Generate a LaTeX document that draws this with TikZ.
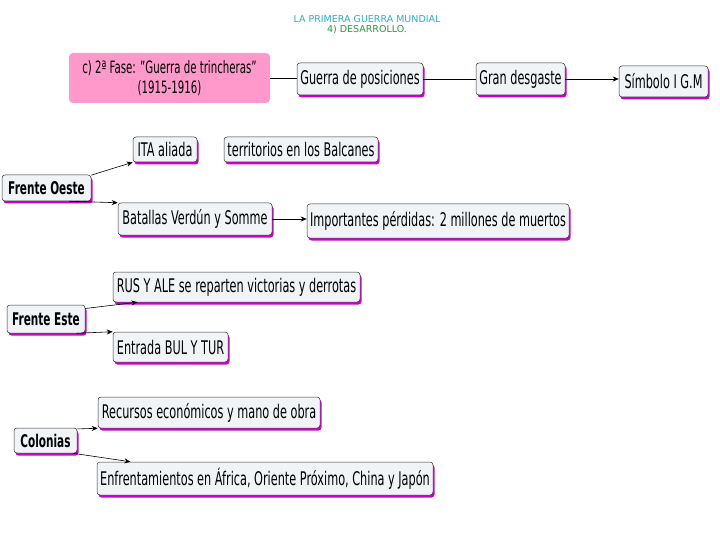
\documentclass[tikz,border=0pt]{standalone}
\usepackage{fontspec}
\setmainfont{DejaVu Sans}[FakeStretch=0.6]
\newfontfamily\titlefont{DejaVu Sans}
\usetikzlibrary{shadows,arrows.meta,calc}
\definecolor{boxfill}{RGB}{240,244,247}
\definecolor{shad}{RGB}{204,0,204}
\definecolor{pinkfill}{RGB}{255,153,204}
\definecolor{titleblue}{RGB}{51,169,201}
\definecolor{titlegreen}{RGB}{46,150,62}
\tikzset{
  concept/.style={draw=black!80, line width=0.5pt, fill=boxfill, rounded corners=3pt,
    inner sep=0pt, font=\fontsize{18.8}{20}\selectfont,
    drop shadow={shadow xshift=1.5pt, shadow yshift=-2.5pt, fill=shad, opacity=1}},
  conn/.style={draw=black, line width=0.6pt},
  arr/.style={conn, -{Stealth[length=6pt,width=5pt]}},
  titletext/.style={font=\titlefont\fontsize{9.5}{11}\selectfont, inner sep=0pt},
}
\newcommand{\bx}[6]{% name, x1, y1, x2, y2, text
  \node[concept, minimum width={(#4-#2)*1pt}, minimum height={(#5-#3)*1pt}]
    (#1) at ({(#2+#4)/2},{(#3+#5)/2}) {#6};}
\newcommand{\hd}[1]{\fontsize{17.5}{20}\selectfont\bfseries #1}
\begin{document}
\begin{tikzpicture}[x=1pt,y=-1pt]
\useasboundingbox (0,0) rectangle (720,540);
\fill[white] (0,0) rectangle (720,540);
% title
\node[titletext, text=titleblue] (t1) at (367,19) {LA PRIMERA GUERRA MUNDIAL};
\node[titletext, text=titlegreen] (t2) at (367,30) {4) DESARROLLO.};
% top row
\node[fill=pinkfill, rounded corners=4pt, minimum width=201pt, minimum height=50pt, inner sep=0pt,
  align=center, font=\fontsize{17}{20}\selectfont] (fase) at (169.5,78)
  {c) 2ª Fase: {\char"22}Guerra de trincheras{\char"22}\\(1915-1916)};
\bx{pos}{297}{63}{423}{95}{Guerra de posiciones}
\bx{des}{476}{63}{565}{95}{Gran desgaste}
\bx{sim}{619}{66}{708}{97}{Símbolo I G.M}
% frente oeste
\bx{ita}{133}{137}{197}{162}{ITA aliada}
\bx{bal}{224}{137}{378}{162}{territorios en los Balcanes}
\bx{fo}{2}{175}{91}{201}{\hd{Frente Oeste}}
\bx{bat}{118}{203}{272}{235}{Batallas Verdún y Somme}
\bx{imp}{307}{204}{569}{238}{Importantes pérdidas: 2 millones de muertos}
% frente este
\bx{rus}{113}{272}{360}{302}{RUS Y ALE se reparten victorias y derrotas}
\bx{fe}{7}{305}{85}{333}{\hd{Frente Este}}
\bx{ent}{113}{332}{228}{362}{Entrada BUL Y TUR}
% colonias
\bx{rec}{98}{397}{320}{428}{Recursos económicos y mano de obra}
\bx{col}{14}{428}{77}{453}{\hd{Colonias}}
\bx{enf}{97}{462}{433}{495}{Enfrentamientos en África, Oriente Próximo, China y Japón}
% connectors
\draw[conn] (fase.east) -- (pos.west |- fase.east);
\draw[conn] (pos.east) -- (des.west);
\draw[arr] (des.east) -- (sim.west |- des.east);
\draw[arr] (fo.16) -- (ita.south west);
\draw[arr] (fo.-30) -- (bat.north west);
\draw[arr] (bat.east) -- (imp.west |- bat.east);
\draw[arr] (fe.15) -- ($(rus.south west)!0.1!(rus.south east)$);
\draw[arr] (fe.-25) -- (ent.north west);
\draw[arr] (col.20) -- (rec.south west);
\draw[arr] (col.-25) -- ($(enf.north west)!0.1!(enf.north east)$);
\end{tikzpicture}
\end{document}
